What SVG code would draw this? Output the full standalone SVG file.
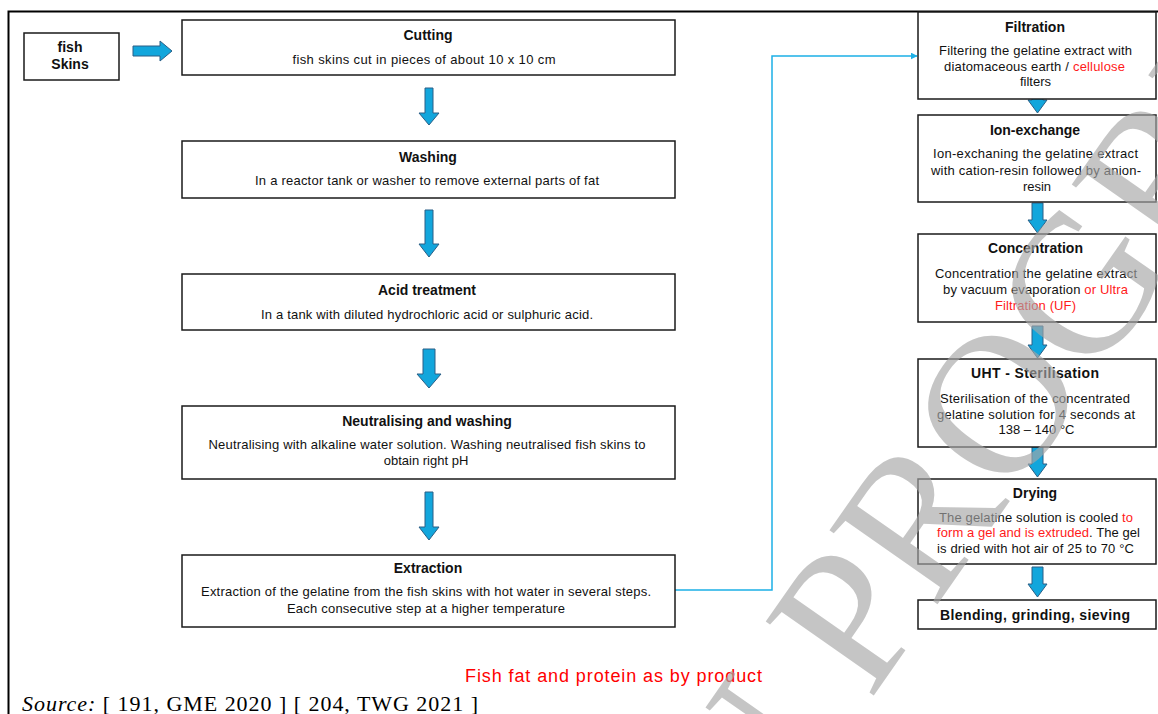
<svg xmlns="http://www.w3.org/2000/svg" width="1158" height="714" viewBox="0 0 1158 714">
<defs>
<style>
.box{fill:#fff;stroke:#1a1a1a;stroke-width:1.5}
.t{font-family:"Liberation Sans",Arial,sans-serif;font-size:14px;font-weight:bold;fill:#111;text-anchor:middle}
.b{font-family:"Liberation Sans",Arial,sans-serif;font-size:13px;fill:#111;text-anchor:middle}
.r{fill:#ff1a1a}
.arr{fill:#12a6dc;stroke:#2a5f86;stroke-width:1}
.con{fill:none;stroke:#1db0e6;stroke-width:1.5}
</style>
<marker id="ah" viewBox="0 0 10 10" refX="9" refY="5" markerWidth="7" markerHeight="7" markerUnits="userSpaceOnUse" orient="auto">
<path d="M0,0 L10,5 L0,10 Z" fill="#1db0e6"/>
</marker>
</defs>
<rect width="1158" height="714" fill="#fff"/>
<path d="M8.5,714 V11.5 H1158" fill="none" stroke="#000" stroke-width="2"/>

<g id="connectors">
<polyline class="con" points="675,590 772,590 772,56 917,56" marker-end="url(#ah)"/>
<path class="arr" d="M133,46 H160 V41 L172,51 L160,61 V56 H133 Z"/>
<path class="arr" d="M425,88 H433 V113 H439 L429,125 L419,113 H425 Z"/>
<path class="arr" d="M425,210 H433 V244 H439 L429,257 L419,244 H425 Z"/>
<path class="arr" d="M423,349 H435 V374 H441 L429,388 L417,374 H423 Z"/>
<path class="arr" d="M425,492 H433 V527 H439 L429,540 L419,527 H425 Z"/>
<path class="arr" d="M1032,84 H1043 V100 H1047 L1037.5,113 L1028,100 H1032 Z"/>
<path class="arr" d="M1032,203 H1043 V220 H1047 L1037.5,233 L1028,220 H1032 Z"/>
<path class="arr" d="M1032,326 H1043 V345 H1047 L1037.5,358 L1028,345 H1032 Z"/>
<path class="arr" d="M1032,447 H1043 V464 H1047 L1037.5,477 L1028,464 H1032 Z"/>
<path class="arr" d="M1032,567 H1043 V584 H1047 L1037.5,597 L1028,584 H1032 Z"/>
</g>

<g id="fish-skins">
<rect class="box" x="24" y="33" width="95" height="47"/>
<text class="t" x="70" y="52">fish</text>
<text class="t" x="70" y="69">Skins</text>
</g>

<g id="cutting">
<rect class="box" x="182" y="20" width="493" height="55"/>
<text class="t" x="428" y="40">Cutting</text>
<text class="b" x="424" y="64" textLength="263" lengthAdjust="spacing">fish skins cut in  pieces of about 10 x 10 cm</text>
</g>

<g id="washing">
<rect class="box" x="182" y="141" width="493" height="57"/>
<text class="t" x="428" y="162">Washing</text>
<text class="b" x="427" y="185" textLength="344" lengthAdjust="spacing">In  a reactor tank or washer to remove external parts of fat</text>
</g>

<g id="acid">
<rect class="box" x="182" y="274" width="493" height="56"/>
<text class="t" x="427" y="295">Acid treatment</text>
<text class="b" x="427" y="319" textLength="332" lengthAdjust="spacing">In  a tank with diluted hydrochloric acid or sulphuric acid.</text>
</g>

<g id="neutralising">
<rect class="box" x="182" y="406" width="493" height="73"/>
<text class="t" x="427" y="426">Neutralising  and washing</text>
<text class="b" x="427" y="449" textLength="437" lengthAdjust="spacing">Neutralising with alkaline  water solution. Washing neutralised fish skins to</text>
<text class="b" x="426" y="465">obtain right pH</text>
</g>

<g id="extraction">
<rect class="box" x="182" y="555" width="493" height="72"/>
<text class="t" x="428" y="573">Extraction</text>
<text class="b" x="426" y="596" textLength="450" lengthAdjust="spacing">Extraction of the gelatine  from the fish skins with hot water in several steps.</text>
<text class="b" x="426" y="613" textLength="278" lengthAdjust="spacing">Each consecutive step at a higher temperature</text>
</g>

<g id="filtration">
<rect class="box" x="918" y="12" width="238" height="87"/>
<text class="t" x="1035" y="32">Filtration</text>
<text class="b" x="1035.5" y="55" textLength="193" lengthAdjust="spacing">Filtering the gelatine extract with</text>
<text class="b" x="1034.5" y="71" textLength="181" lengthAdjust="spacing">diatomaceous earth / <tspan class="r">cellulose</tspan></text>
<text class="b" x="1035.5" y="86">filters</text>
</g>

<g id="ion-exchange">
<rect class="box" x="918" y="115" width="238" height="87"/>
<text class="t" x="1035" y="135">Ion-exchange</text>
<text class="b" x="1035.5" y="158" textLength="205" lengthAdjust="spacing">Ion-exchaning the gelatine extract</text>
<text class="b" x="1036" y="175" textLength="210" lengthAdjust="spacing">with cation-resin followed by anion-</text>
<text class="b" x="1037" y="191">resin</text>
</g>

<g id="concentration">
<rect class="box" x="918" y="234" width="238" height="88"/>
<text class="t" x="1035.5" y="253">Concentration</text>
<text class="b" x="1036" y="278" textLength="202" lengthAdjust="spacing">Concentration the gelatine extract</text>
<text class="b" x="1035.5" y="294" textLength="185" lengthAdjust="spacing">by vacuum evaporation <tspan class="r">or Ultra</tspan></text>
<text class="b r" x="1035.5" y="310" textLength="81" lengthAdjust="spacing">Filtration  (UF)</text>
</g>

<g id="uht">
<rect class="box" x="918" y="359" width="238" height="88"/>
<text class="t" x="1035" y="378" textLength="128" lengthAdjust="spacing">UHT  - Sterilisation</text>
<text class="b" x="1035" y="403" textLength="190" lengthAdjust="spacing">Sterilisation of the concentrated</text>
<text class="b" x="1036" y="419" textLength="198" lengthAdjust="spacing">gelatine  solution  for 4 seconds at</text>
<text class="b" x="1036.5" y="434">138 – 140 °C</text>
</g>

<g id="drying">
<rect class="box" x="918" y="479" width="238" height="85"/>
<text class="t" x="1035" y="498">Drying</text>
<text class="b" x="1036" y="522" textLength="194" lengthAdjust="spacing">The gelatine solution is cooled <tspan class="r">to</tspan></text>
<text class="b" x="1038.5" y="537" textLength="203" lengthAdjust="spacing"><tspan class="r">form a gel and is extruded</tspan>. The gel</text>
<text class="b" x="1035.5" y="553" textLength="197" lengthAdjust="spacing">is dried with hot air of 25 to 70 °C</text>
</g>

<g id="blending">
<rect class="box" x="918" y="600" width="238" height="29"/>
<text class="t" x="1035" y="620" textLength="190" lengthAdjust="spacing">Blending,  grinding,  sieving</text>
</g>

<g id="byproduct">
<text x="613.5" y="682" font-family="Liberation Sans, Arial, sans-serif" font-size="18" fill="#ff0000" text-anchor="middle" textLength="297" lengthAdjust="spacing">Fish fat and protein as by product</text>
</g>

<g id="source">
<text x="22" y="711" font-family="Liberation Serif, Times New Roman, serif" font-size="22" fill="#000" textLength="456" lengthAdjust="spacing"><tspan font-style="italic">Source:</tspan> [ 191, GME 2020 ] [ 204, TWG 2021 ]</text>
</g>

<g id="watermark">
<text transform="translate(720,915) rotate(-55)" font-family="Liberation Serif, Times New Roman, serif" font-size="200" fill="#a6a6a6" fill-opacity="0.65">IN PROGRESS</text>
</g>
</svg>
